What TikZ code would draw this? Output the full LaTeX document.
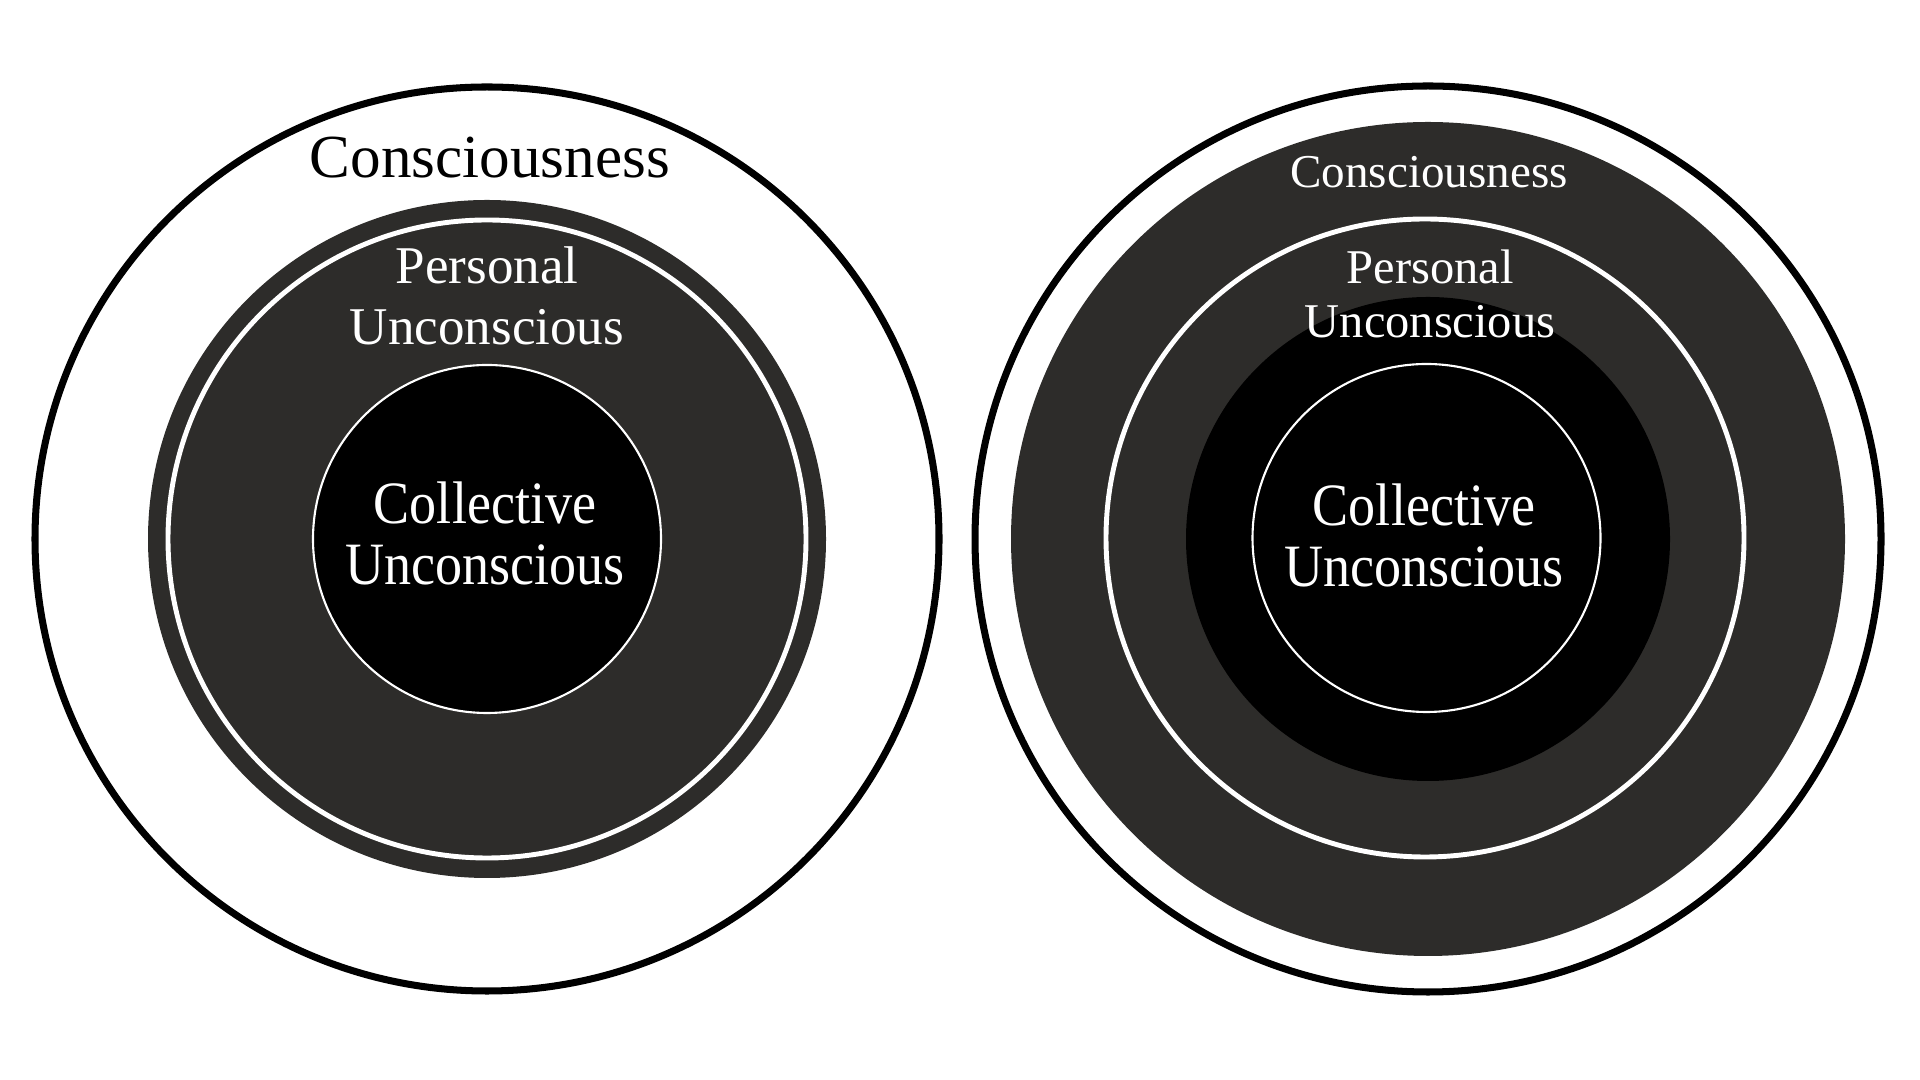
\documentclass[tikz,border=0pt]{standalone}
\usepackage{fontspec}
\setmainfont{Liberation Serif}
\newfontfamily\collfont[FakeStretch=0.9]{Liberation Serif}
\definecolor{psyche}{RGB}{45,44,42}

\begin{document}
\begin{tikzpicture}[
    rim/.style={draw, black, line width=2pt},
    ring/.style={draw, white, line width=1.4pt},
    core/.style={fill=black, draw=white, line width=0.6pt},
    lbl/.style={anchor=base, align=center, text=white, inner sep=0pt},
  ]
  \useasboundingbox (0,0) rectangle (19.2,10.8);
  \coordinate (lc) at (4.87,5.41);
  \coordinate (rc) at (14.28,5.41);

  % ---- left model ----
  \draw[rim] (lc) circle (4.52);
  \fill[psyche] (lc) circle (3.39);
  \draw[ring] (lc) circle (3.19);
  \draw[core] (lc) circle (1.74);
  \node[lbl, text=black, font=\fontsize{17.4}{20}\selectfont] (lcons) at (4.90,9.02) {Consciousness};
  \node[lbl, font=\fontsize{15.1}{17.6}\selectfont] (lpers) at (4.87,7.35) {Personal\\Unconscious};
  \node[lbl, font=\collfont\fontsize{17.1}{17.6}\selectfont] (lcoll) at (4.85,4.95) {Collective\\Unconscious};

  % ---- right model ----
  \draw[rim] (rc) circle (4.53);
  \fill[psyche] (rc) circle (4.17);
  \draw[ring] (14.25,5.42) circle (3.19);
  \fill[black] (rc) circle (2.42);
  \draw[core] (14.265,5.42) circle (1.74);
  \node[lbl, font=\fontsize{13.4}{16}\selectfont] (rcons) at (14.29,8.92) {Consciousness};
  \node[lbl, font=\fontsize{13.8}{15.4}\selectfont] (rpers) at (14.30,7.42) {Personal\\Unconscious};
  \node[lbl, font=\collfont\fontsize{17.1}{17.6}\selectfont] (rcoll) at (14.24,4.93) {Collective\\Unconscious};
\end{tikzpicture}
\end{document}
